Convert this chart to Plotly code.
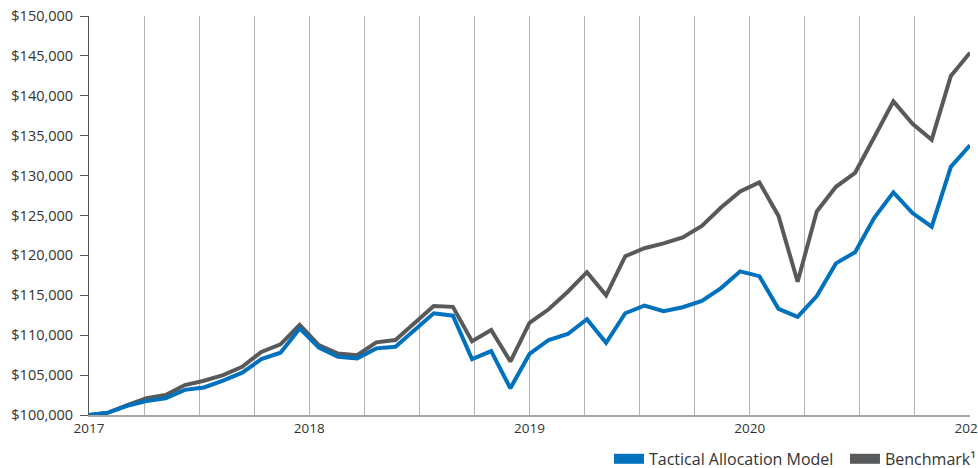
import numpy as np
import plotly.graph_objects as go

# Values (growth of $100,000), one point per period
tactical = [100000, 100300, 101150, 101750, 102100, 103150, 103450, 104300, 105300, 107000,
            107800, 110850, 108450, 107300, 107100, 108350, 108550, 110650, 112750, 112450,
            107000, 108000, 103350, 107650, 109400, 110150, 112000, 109050, 112750, 113700,
            113000, 113500, 114300, 115900, 118000, 117400, 113300, 112300, 114900, 119000,
            120400, 124700, 127900, 125300, 123600, 131100, 133800]
benchmark = [100000, 100300, 101250, 102100, 102500, 103750, 104300, 105000, 106050, 107900,
             108850, 111300, 108750, 107700, 107500, 109100, 109400, 111500, 113650, 113550,
             109250, 110650, 106700, 111550, 113250, 115450, 117900, 115000, 119900, 120900,
             121500, 122250, 123700, 126000, 128000, 129150, 124950, 116700, 125500, 128600,
             130350, 134800, 139300, 136500, 134500, 142500, 145400]
year_labels = ["2017", "2018", "2019", "2020", "2021"]
series_names = ["Tactical Allocation Model", "Benchmark¹"]

BLUE = "#0071BC"
GRAY = "#58595B"

n = len(tactical)
x = list(range(n))
year_pos = np.linspace(0, n - 1, len(year_labels)).tolist()
grid_pos = np.linspace(0, n - 1, 4 * (len(year_labels) - 1) + 1).tolist()

fig = go.Figure()
fig.add_trace(go.Scatter(x=x, y=benchmark, mode="lines", line=dict(color=GRAY, width=4),
                         showlegend=False, hoverinfo="skip"))
fig.add_trace(go.Scatter(x=x, y=tactical, mode="lines", line=dict(color=BLUE, width=4),
                         showlegend=False, hoverinfo="skip"))
# legend entries
fig.add_trace(go.Scatter(x=[None], y=[None], mode="lines", line=dict(color=BLUE, width=13),
                         name=series_names[0]))
fig.add_trace(go.Scatter(x=[None], y=[None], mode="lines", line=dict(color=GRAY, width=13),
                         name=series_names[1]))

fig.update_layout(
    width=978, height=468,
    margin=dict(l=89, r=8, t=16, b=53, autoexpand=False),
    paper_bgcolor="white", plot_bgcolor="white",
    font=dict(family="Open Sans", color="#333333", size=13),
    showlegend=True,
    legend=dict(orientation="h", x=0.5902, xanchor="left", y=-0.11, yanchor="middle",
                font=dict(size=16, color="#333333"), itemwidth=30,
                entrywidth=191, entrywidthmode="pixels",
                bgcolor="rgba(0,0,0,0)"),
)
fig.update_xaxes(
    range=[0, n - 1], tickmode="array", tickvals=year_pos, ticktext=year_labels,
    showgrid=True, gridcolor="#b3b3b3", gridwidth=1,
    minor=dict(tickmode="array", tickvals=grid_pos, showgrid=True, gridcolor="#b3b3b3",
               gridwidth=1, ticklen=0),
    showline=True, linecolor="#a6a6a6", linewidth=2,
    ticks="", zeroline=False, tickfont=dict(size=13.5), automargin=False,
    ticklabeloverflow="allow",
)
fig.update_yaxes(
    range=[100000, 150000], dtick=5000, tickprefix="$", tickformat=",d",
    showgrid=False, zeroline=False,
    showline=True, linecolor="#555555", linewidth=1,
    ticks="outside", ticklen=8, tickcolor="#555555", tickwidth=1,
    tickfont=dict(size=14.5), ticklabelstandoff=4, automargin=False,
    ticklabeloverflow="allow",
)

# remove the default 8px page margin so the figure sits at the window origin
fig.write_html("out.html", config={"displayModeBar": False},
               post_script="document.body.style.margin='0';")
